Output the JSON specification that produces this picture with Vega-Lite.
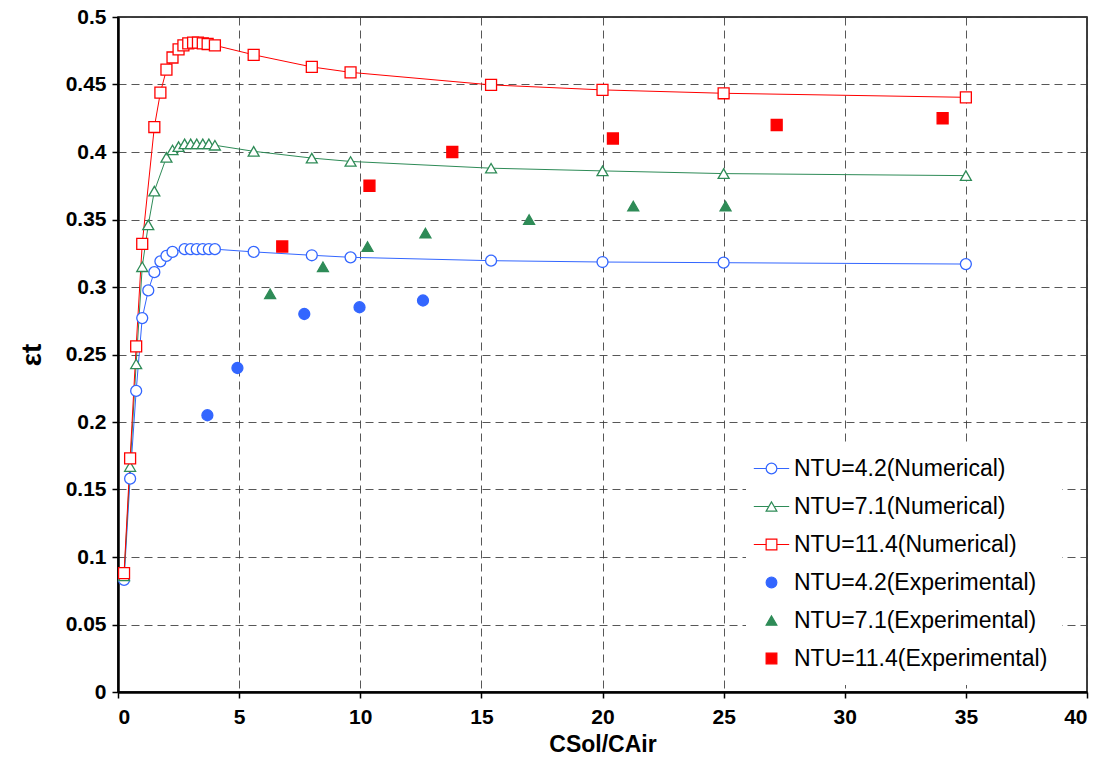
{
  "$schema": "https://vega.github.io/schema/vega-lite/v6.json",
  "autosize": "none",
  "width": 969,
  "height": 675,
  "padding": {"left": 118, "top": 17, "right": 21, "bottom": 77},
  "background": "white",
  "config": {
    "font": "Liberation Sans",
    "view": {"stroke": "black", "strokeWidth": 1.5},
    "axis": {
      "domainColor": "black",
      "domainWidth": 2.5,
      "tickColor": "black",
      "tickWidth": 1.5,
      "tickSize": 6,
      "labelFont": "Liberation Sans",
      "labelFontWeight": "bold",
      "labelFontSize": 21,
      "labelColor": "black",
      "titleFont": "Liberation Sans",
      "titleFontWeight": "bold",
      "titleColor": "black",
      "gridColor": "#3a3a3a",
      "gridDash": [8, 5],
      "gridWidth": 1,
      "gridOpacity": 0.85
    },
    "legend": {
      "orient": "none",
      "legendX": 628,
      "legendY": 426,
      "padding": 14,
      "labelFont": "Liberation Sans",
      "labelFontSize": 23,
      "labelColor": "black",
      "labelOffset": 11,
      "labelLimit": 400,
      "rowPadding": 14,
      "symbolSize": 115,
      "symbolOpacity": 1
    }
  },
  "datasets": {
    "pts": [
      {"x": 0.25, "y": 0.083, "series": "NTU=4.2(Numerical)", "kind": "Numerical"},
      {"x": 0.5, "y": 0.158, "series": "NTU=4.2(Numerical)", "kind": "Numerical"},
      {"x": 0.75, "y": 0.223, "series": "NTU=4.2(Numerical)", "kind": "Numerical"},
      {"x": 1.0, "y": 0.277, "series": "NTU=4.2(Numerical)", "kind": "Numerical"},
      {"x": 1.25, "y": 0.2975, "series": "NTU=4.2(Numerical)", "kind": "Numerical"},
      {"x": 1.5, "y": 0.311, "series": "NTU=4.2(Numerical)", "kind": "Numerical"},
      {"x": 1.75, "y": 0.319, "series": "NTU=4.2(Numerical)", "kind": "Numerical"},
      {"x": 2.0, "y": 0.323, "series": "NTU=4.2(Numerical)", "kind": "Numerical"},
      {"x": 2.25, "y": 0.326, "series": "NTU=4.2(Numerical)", "kind": "Numerical"},
      {"x": 2.75, "y": 0.328, "series": "NTU=4.2(Numerical)", "kind": "Numerical"},
      {"x": 3.0, "y": 0.328, "series": "NTU=4.2(Numerical)", "kind": "Numerical"},
      {"x": 3.25, "y": 0.328, "series": "NTU=4.2(Numerical)", "kind": "Numerical"},
      {"x": 3.5, "y": 0.328, "series": "NTU=4.2(Numerical)", "kind": "Numerical"},
      {"x": 3.75, "y": 0.328, "series": "NTU=4.2(Numerical)", "kind": "Numerical"},
      {"x": 4.0, "y": 0.328, "series": "NTU=4.2(Numerical)", "kind": "Numerical"},
      {"x": 5.6, "y": 0.326, "series": "NTU=4.2(Numerical)", "kind": "Numerical"},
      {"x": 8.0, "y": 0.3235, "series": "NTU=4.2(Numerical)", "kind": "Numerical"},
      {"x": 9.6, "y": 0.322, "series": "NTU=4.2(Numerical)", "kind": "Numerical"},
      {"x": 15.4, "y": 0.3195, "series": "NTU=4.2(Numerical)", "kind": "Numerical"},
      {"x": 20.0, "y": 0.3185, "series": "NTU=4.2(Numerical)", "kind": "Numerical"},
      {"x": 25.0, "y": 0.318, "series": "NTU=4.2(Numerical)", "kind": "Numerical"},
      {"x": 35.0, "y": 0.317, "series": "NTU=4.2(Numerical)", "kind": "Numerical"},

      {"x": 0.25, "y": 0.086, "series": "NTU=7.1(Numerical)", "kind": "Numerical"},
      {"x": 0.5, "y": 0.167, "series": "NTU=7.1(Numerical)", "kind": "Numerical"},
      {"x": 0.75, "y": 0.243, "series": "NTU=7.1(Numerical)", "kind": "Numerical"},
      {"x": 1.0, "y": 0.315, "series": "NTU=7.1(Numerical)", "kind": "Numerical"},
      {"x": 1.25, "y": 0.346, "series": "NTU=7.1(Numerical)", "kind": "Numerical"},
      {"x": 1.5, "y": 0.371, "series": "NTU=7.1(Numerical)", "kind": "Numerical"},
      {"x": 2.0, "y": 0.396, "series": "NTU=7.1(Numerical)", "kind": "Numerical"},
      {"x": 2.25, "y": 0.4015, "series": "NTU=7.1(Numerical)", "kind": "Numerical"},
      {"x": 2.5, "y": 0.404, "series": "NTU=7.1(Numerical)", "kind": "Numerical"},
      {"x": 2.75, "y": 0.406, "series": "NTU=7.1(Numerical)", "kind": "Numerical"},
      {"x": 3.0, "y": 0.406, "series": "NTU=7.1(Numerical)", "kind": "Numerical"},
      {"x": 3.25, "y": 0.406, "series": "NTU=7.1(Numerical)", "kind": "Numerical"},
      {"x": 3.5, "y": 0.406, "series": "NTU=7.1(Numerical)", "kind": "Numerical"},
      {"x": 3.75, "y": 0.406, "series": "NTU=7.1(Numerical)", "kind": "Numerical"},
      {"x": 4.0, "y": 0.405, "series": "NTU=7.1(Numerical)", "kind": "Numerical"},
      {"x": 5.6, "y": 0.4005, "series": "NTU=7.1(Numerical)", "kind": "Numerical"},
      {"x": 8.0, "y": 0.3955, "series": "NTU=7.1(Numerical)", "kind": "Numerical"},
      {"x": 9.6, "y": 0.393, "series": "NTU=7.1(Numerical)", "kind": "Numerical"},
      {"x": 15.4, "y": 0.388, "series": "NTU=7.1(Numerical)", "kind": "Numerical"},
      {"x": 20.0, "y": 0.386, "series": "NTU=7.1(Numerical)", "kind": "Numerical"},
      {"x": 25.0, "y": 0.384, "series": "NTU=7.1(Numerical)", "kind": "Numerical"},
      {"x": 35.0, "y": 0.3825, "series": "NTU=7.1(Numerical)", "kind": "Numerical"},

      {"x": 0.25, "y": 0.088, "series": "NTU=11.4(Numerical)", "kind": "Numerical"},
      {"x": 0.5, "y": 0.173, "series": "NTU=11.4(Numerical)", "kind": "Numerical"},
      {"x": 0.75, "y": 0.256, "series": "NTU=11.4(Numerical)", "kind": "Numerical"},
      {"x": 1.0, "y": 0.332, "series": "NTU=11.4(Numerical)", "kind": "Numerical"},
      {"x": 1.5, "y": 0.4185, "series": "NTU=11.4(Numerical)", "kind": "Numerical"},
      {"x": 1.75, "y": 0.444, "series": "NTU=11.4(Numerical)", "kind": "Numerical"},
      {"x": 2.0, "y": 0.461, "series": "NTU=11.4(Numerical)", "kind": "Numerical"},
      {"x": 2.25, "y": 0.47, "series": "NTU=11.4(Numerical)", "kind": "Numerical"},
      {"x": 2.5, "y": 0.476, "series": "NTU=11.4(Numerical)", "kind": "Numerical"},
      {"x": 2.7, "y": 0.479, "series": "NTU=11.4(Numerical)", "kind": "Numerical"},
      {"x": 2.9, "y": 0.4805, "series": "NTU=11.4(Numerical)", "kind": "Numerical"},
      {"x": 3.1, "y": 0.481, "series": "NTU=11.4(Numerical)", "kind": "Numerical"},
      {"x": 3.3, "y": 0.481, "series": "NTU=11.4(Numerical)", "kind": "Numerical"},
      {"x": 3.5, "y": 0.4805, "series": "NTU=11.4(Numerical)", "kind": "Numerical"},
      {"x": 3.7, "y": 0.48, "series": "NTU=11.4(Numerical)", "kind": "Numerical"},
      {"x": 4.0, "y": 0.479, "series": "NTU=11.4(Numerical)", "kind": "Numerical"},
      {"x": 5.6, "y": 0.472, "series": "NTU=11.4(Numerical)", "kind": "Numerical"},
      {"x": 8.0, "y": 0.463, "series": "NTU=11.4(Numerical)", "kind": "Numerical"},
      {"x": 9.6, "y": 0.459, "series": "NTU=11.4(Numerical)", "kind": "Numerical"},
      {"x": 15.4, "y": 0.4497, "series": "NTU=11.4(Numerical)", "kind": "Numerical"},
      {"x": 20.0, "y": 0.446, "series": "NTU=11.4(Numerical)", "kind": "Numerical"},
      {"x": 25.0, "y": 0.4435, "series": "NTU=11.4(Numerical)", "kind": "Numerical"},
      {"x": 35.0, "y": 0.4405, "series": "NTU=11.4(Numerical)", "kind": "Numerical"},

      {"x": 3.69, "y": 0.205, "series": "NTU=4.2(Experimental)", "kind": "Experimental"},
      {"x": 4.93, "y": 0.24, "series": "NTU=4.2(Experimental)", "kind": "Experimental"},
      {"x": 7.69, "y": 0.28, "series": "NTU=4.2(Experimental)", "kind": "Experimental"},
      {"x": 9.97, "y": 0.285, "series": "NTU=4.2(Experimental)", "kind": "Experimental"},
      {"x": 12.59, "y": 0.29, "series": "NTU=4.2(Experimental)", "kind": "Experimental"},

      {"x": 6.28, "y": 0.295, "series": "NTU=7.1(Experimental)", "kind": "Experimental"},
      {"x": 8.46, "y": 0.315, "series": "NTU=7.1(Experimental)", "kind": "Experimental"},
      {"x": 10.3, "y": 0.33, "series": "NTU=7.1(Experimental)", "kind": "Experimental"},
      {"x": 12.69, "y": 0.34, "series": "NTU=7.1(Experimental)", "kind": "Experimental"},
      {"x": 16.97, "y": 0.35, "series": "NTU=7.1(Experimental)", "kind": "Experimental"},
      {"x": 21.27, "y": 0.36, "series": "NTU=7.1(Experimental)", "kind": "Experimental"},
      {"x": 25.08, "y": 0.36, "series": "NTU=7.1(Experimental)", "kind": "Experimental"},

      {"x": 6.78, "y": 0.33, "series": "NTU=11.4(Experimental)", "kind": "Experimental"},
      {"x": 10.38, "y": 0.375, "series": "NTU=11.4(Experimental)", "kind": "Experimental"},
      {"x": 13.8, "y": 0.4, "series": "NTU=11.4(Experimental)", "kind": "Experimental"},
      {"x": 20.43, "y": 0.41, "series": "NTU=11.4(Experimental)", "kind": "Experimental"},
      {"x": 27.19, "y": 0.42, "series": "NTU=11.4(Experimental)", "kind": "Experimental"},
      {"x": 34.04, "y": 0.425, "series": "NTU=11.4(Experimental)", "kind": "Experimental"}
    ]
  },
  "data": {"name": "pts"},
  "encoding": {
    "x": {
      "field": "x",
      "type": "quantitative",
      "scale": {"domain": [0, 40], "nice": false, "zero": false},
      "axis": {
        "values": [0, 5, 10, 15, 20, 25, 30, 35, 40],
        "format": "d",
        "title": "CSol/CAir",
        "titleFontSize": 23,
        "titlePadding": 6,
        "labelPadding": 8
      }
    },
    "y": {
      "field": "y",
      "type": "quantitative",
      "scale": {"domain": [0, 0.5], "nice": false, "zero": false},
      "axis": {
        "values": [0, 0.05, 0.1, 0.15, 0.2, 0.25, 0.3, 0.35, 0.4, 0.45, 0.5],
        "labelExpr": "format(datum.value, '.2~f')",
        "title": "εt",
        "titleFontSize": 28,
        "titlePadding": 19,
        "labelPadding": 6
      }
    }
  },
  "layer": [
    {
      "mark": {"type": "line", "strokeWidth": 1},
      "encoding": {
        "color": {
          "field": "series",
          "type": "nominal",
          "sort": null,
          "scale": {
            "range": ["#3366ff", "#2e8b57", "#ff0000", "transparent", "transparent", "transparent"]
          },
          "title": null,
          "legend": {
            "symbolType": "M-3.3,0H3.3",
            "symbolStrokeWidth": 1,
            "fillColor": "white",
            "labelOpacity": 0
          }
        },
        "order": {"field": "x", "type": "quantitative"}
      }
    },
    {
      "mark": {"type": "point", "filled": true, "size": 120, "strokeWidth": 1.3, "opacity": 1},
      "encoding": {
        "stroke": {
          "field": "series",
          "type": "nominal",
          "scale": {
            "domain": ["NTU=4.2(Numerical)", "NTU=7.1(Numerical)", "NTU=11.4(Numerical)", "NTU=4.2(Experimental)", "NTU=7.1(Experimental)", "NTU=11.4(Experimental)"],
            "range": ["#3366ff", "#2e8b57", "#ff0000", "#3366ff", "#2e8b57", "#ff0000"]
          },
          "title": null,
          "legend": {"symbolStrokeWidth": 1.2}
        },
        "fill": {
          "field": "series",
          "type": "nominal",
          "scale": {
            "domain": ["NTU=4.2(Numerical)", "NTU=7.1(Numerical)", "NTU=11.4(Numerical)", "NTU=4.2(Experimental)", "NTU=7.1(Experimental)", "NTU=11.4(Experimental)"],
            "range": ["#ffffff", "#ffffff", "#ffffff", "#3366ff", "#2e8b57", "#ff0000"]
          },
          "title": null
        },
        "shape": {
          "field": "series",
          "type": "nominal",
          "scale": {
            "domain": ["NTU=4.2(Numerical)", "NTU=7.1(Numerical)", "NTU=11.4(Numerical)", "NTU=4.2(Experimental)", "NTU=7.1(Experimental)", "NTU=11.4(Experimental)"],
            "range": ["circle", "triangle-up", "square", "circle", "triangle-up", "square"]
          },
          "title": null
        }
      }
    }
  ]
}
